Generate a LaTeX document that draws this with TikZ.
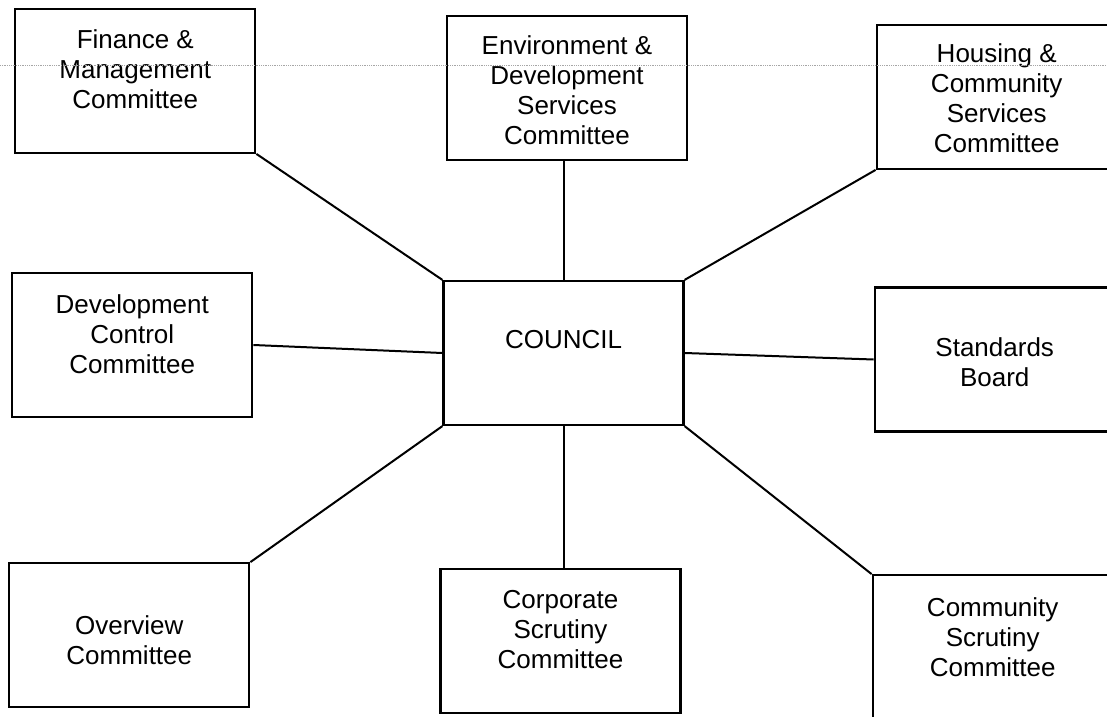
\documentclass[tikz,border=0pt]{standalone}
\usepackage{fontspec}
\setmainfont{Liberation Sans}
\usetikzlibrary{positioning}

\begin{document}
\begin{tikzpicture}[x=1pt, y=1pt,
	box/.style={draw, line width=2.2pt, minimum width=240pt, minimum height=144pt, inner sep=0pt},
	link/.style={line width=2pt},
	every label/.style={align=center, font=\fontsize{26}{30}\selectfont}]
		\useasboundingbox (0,0) rectangle (1107,716);
		\clip (0,0) rectangle (1107,716);
		\node (council) [box, label={[yshift=13pt]center:COUNCIL}] at (563.5,363) {};
		\node (fin) [box, above left=126pt and 186pt of council, label={[yshift=11.5pt]center:Finance \&\\Management\\Committee}] {};
		\node (env) [box, above=119pt of council, xshift=3.5pt, label={[yshift=-2.5pt]center:Environment \&\\Development\\Services\\Committee}] {};
		\node (hou) [box, above right=110pt and 191pt of council, label={[yshift=-1.5pt]center:Housing \&\\Community\\Services\\Committee}] {};
		\node (dev) [box, left=189pt of council, yshift=8pt, label={[yshift=11pt]center:Development\\Control\\Committee}] {};
		\node (std) [box, right=189pt of council, yshift=-6.5pt, label={[yshift=-2.5pt]center:Standards\\Board}] {};
		\node (ovw) [box, below left=136pt and 192pt of council, label={[yshift=-5pt]center:Overview\\Committee}] {};
		\node (corp) [box, below=142pt of council, xshift=-3pt, label={[yshift=11.5pt]center:Corporate\\Scrutiny\\Committee}] {};
		\node (com) [box, below right=148pt and 187pt of council, label={[yshift=10pt]center:Community\\Scrutiny\\Committee}] {};
		\draw [link] (fin.south east) -- (council.north west);
		\draw [link] (council.north) -- (council.north |- env.south);
		\draw [link] (hou.south west) -- (council.north east);
		\draw [link] (dev.east) -- (council.west);
		\draw [link] (council.east) -- (std.west);
		\draw [link] (council.south west) -- (ovw.north east);
		\draw [link] (council.south) -- (council.south |- corp.north);
		\draw [link] (council.south east) -- (com.north west);
		% faint dotted rule across the top
		\coordinate (rl) at (0,651);
		\coordinate (rr) at (1107,651);
		\draw [gray!70, densely dotted, line width=0.8pt] (rl) -- (rr);
\end{tikzpicture}
\end{document}
